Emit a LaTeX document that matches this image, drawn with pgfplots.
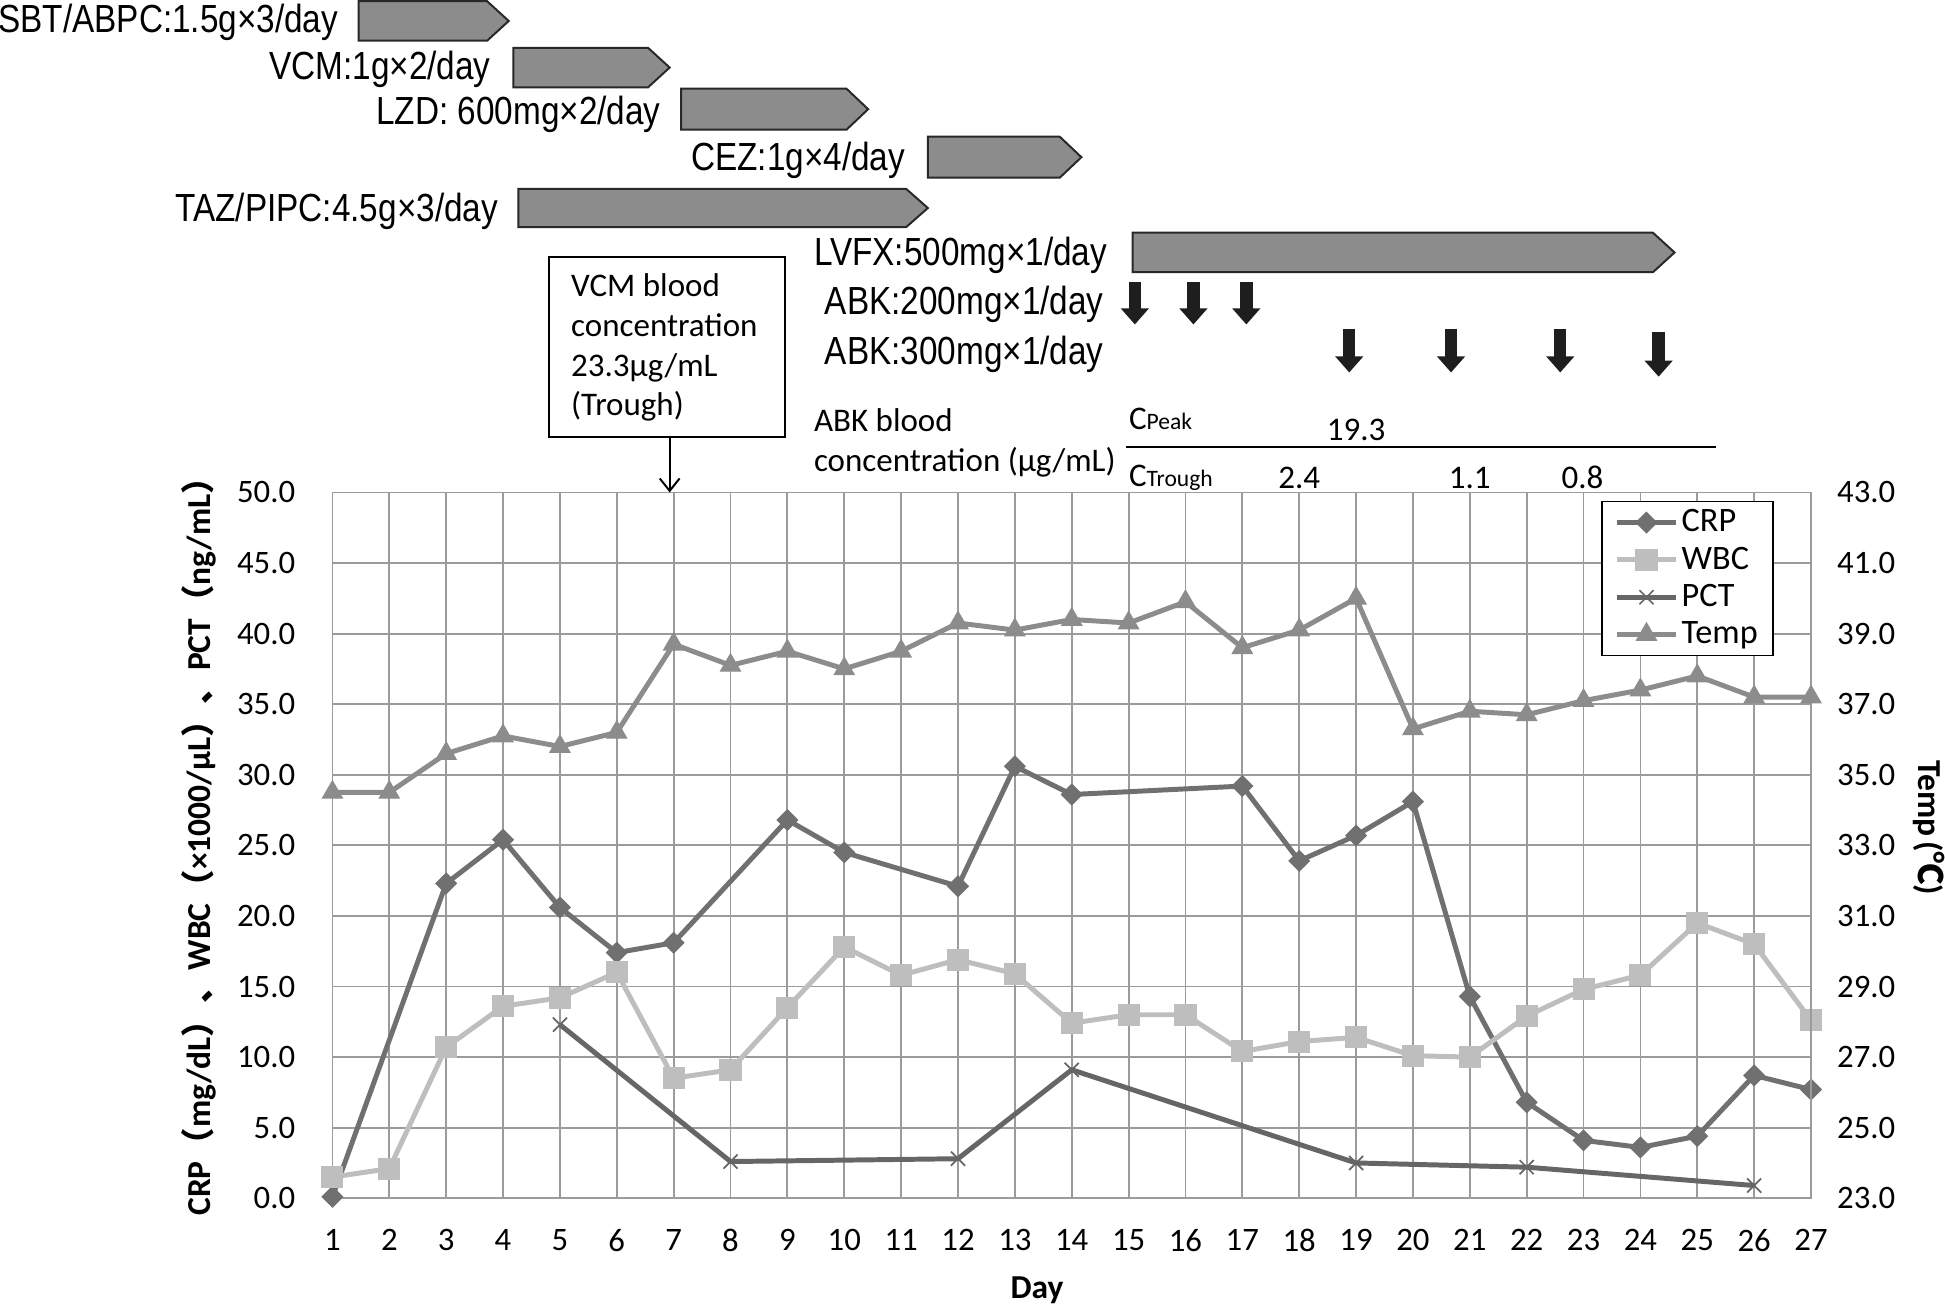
\documentclass[border=0pt]{standalone}
\usepackage{pgfplots}
\pgfplotsset{compat=1.18}
\usetikzlibrary{arrows.meta}
\usepackage{fontspec}
\setmainfont{Carlito}
\newfontfamily\narrow[FakeStretch=0.85]{Liberation Sans}
\newfontfamily\cjk{Noto Sans CJK JP}

\definecolor{crpc}{RGB}{112,112,112}
\definecolor{wbcc}{RGB}{190,190,190}
\definecolor{pctc}{RGB}{102,102,102}
\definecolor{tempc}{RGB}{140,140,140}
\definecolor{gridc}{RGB}{155,155,155}
\definecolor{barfill}{RGB}{140,140,140}
\definecolor{barline}{RGB}{40,40,40}
\definecolor{arrc}{RGB}{30,30,30}

\pgfplotsset{
  crpstyle/.style={color=crpc, line width=2pt, mark=square*, mark size=2.9pt,
    mark options={rotate=45, solid, fill=crpc, draw=crpc, line width=0.5pt}},
  wbcstyle/.style={color=wbcc, line width=2pt, mark=square*, mark size=4.2pt,
    mark options={solid, fill=wbcc, draw=wbcc, line width=0.5pt}},
  pctstyle/.style={color=pctc, line width=2pt, mark=x, mark size=4pt,
    mark options={solid, draw=pctc, line width=0.7pt}},
  tempstyle/.style={color=tempc, line width=2pt, mark=triangle*, mark size=4.6pt,
    mark options={solid, fill=tempc, draw=tempc, line width=0.5pt}},
  common/.style={
    scale only axis, width=596pt, height=284.5pt,
    xmin=1, xmax=27,
    major tick length=0pt,
    tick label style={font=\fontsize{13.2}{15}\selectfont},
    /pgf/number format/assume math mode=true,
    yticklabel style={/pgf/number format/fixed, /pgf/number format/fixed zerofill, /pgf/number format/precision=1},
    clip=false,
  },
}

\newcommand\abk[3]{\draw[line width=5pt, draw=arrc, -{Triangle[width=11pt,length=6.5pt]}] (axis cs:#1,#2) -- (axis cs:#1,#3);}

\begin{document}
\begin{tikzpicture}
\begin{axis}[common,
  ymin=0, ymax=50,
  xtick={1,...,27}, ytick={0,5,...,50},
  grid=major, grid style={draw=gridc, line width=0.75pt},
  axis line style={draw=gridc, line width=0.75pt},
  xticklabel style={yshift=-9pt},
  yticklabel style={xshift=-11.5pt},
  xlabel={\bfseries Day},
  xlabel style={at={(axis description cs:0.4765,-0.13)}, anchor=center, font=\fontsize{13.5}{15}\selectfont},
  ylabel={\bfseries CRP{\cjk（}mg/dL{\cjk）、}WBC{\cjk（}×1000/μL{\cjk）、}PCT{\cjk（}ng/mL{\cjk）}},
  ylabel style={at={(axis description cs:-0.0906,0.51)}, anchor=center, font=\fontsize{13.5}{15}\selectfont},
]
\addplot[crpstyle] coordinates {
  (1,0.1) (3,22.3) (4,25.4) (5,20.6) (6,17.4) (7,18.1) (9,26.8) (10,24.5)
  (12,22.1) (13,30.6) (14,28.6) (17,29.2) (18,23.9) (19,25.7) (20,28.1)
  (21,14.3) (22,6.8) (23,4.1) (24,3.6) (25,4.4) (26,8.7) (27,7.7)
};
\addplot[wbcstyle] coordinates {
  (1,1.5) (2,2.1) (3,10.7) (4,13.6) (5,14.2) (6,16.0) (7,8.5) (8,9.1)
  (9,13.5) (10,17.8) (11,15.8) (12,16.9) (13,15.9) (14,12.4) (15,13.0)
  (16,13.0) (17,10.4) (18,11.1) (19,11.4) (20,10.1) (21,10.0) (22,12.9)
  (23,14.8) (24,15.8) (25,19.5) (26,18.0) (27,12.6)
};
\addplot[pctstyle] coordinates {
  (5,12.3) (8,2.6) (12,2.8) (14,9.1) (19,2.5) (22,2.2) (26,0.9)
};

% drug administration bars
\begin{scope}[fill=barfill, draw=barline, line width=0.8pt]
\filldraw (axis cs:1.46,84.8) -- (axis cs:3.72,84.8) -- (axis cs:4.10,83.4) -- (axis cs:3.72,82.0) -- (axis cs:1.46,82.0) -- cycle;
\filldraw (axis cs:4.18,81.5) -- (axis cs:6.55,81.5) -- (axis cs:6.93,80.1) -- (axis cs:6.55,78.7) -- (axis cs:4.18,78.7) -- cycle;
\filldraw (axis cs:7.13,78.6) -- (axis cs:10.04,78.6) -- (axis cs:10.42,77.15) -- (axis cs:10.04,75.7) -- (axis cs:7.13,75.7) -- cycle;
\filldraw (axis cs:11.47,75.2) -- (axis cs:13.79,75.2) -- (axis cs:14.17,73.75) -- (axis cs:13.79,72.3) -- (axis cs:11.47,72.3) -- cycle;
\filldraw (axis cs:4.27,71.5) -- (axis cs:11.09,71.5) -- (axis cs:11.47,70.15) -- (axis cs:11.09,68.8) -- (axis cs:4.27,68.8) -- cycle;
\filldraw (axis cs:15.07,68.4) -- (axis cs:24.22,68.4) -- (axis cs:24.60,67.0) -- (axis cs:24.22,65.6) -- (axis cs:15.07,65.6) -- cycle;
\end{scope}
\begin{scope}[every node/.style={inner sep=0pt, anchor=east, font=\narrow\fontsize{15.8}{17}\selectfont}]
\node at (axis cs:1.11,83.3) {SBT/ABPC:1.5g×3/day};
\node at (axis cs:3.79,80.0) {VCM:1g×2/day};
\node at (axis cs:6.78,76.8) {LZD: 600mg×2/day};
\node at (axis cs:11.08,73.5) {CEZ:1g×4/day};
\node at (axis cs:3.92,69.9) {TAZ/PIPC:4.5g×3/day};
\node at (axis cs:14.63,66.8) {LVFX:500mg×1/day};
\node at (axis cs:14.57,63.3) {ABK:200mg×1/day};
\node at (axis cs:14.57,59.8) {ABK:300mg×1/day};
\end{scope}
\abk{15.11}{64.9}{61.9}
\abk{16.14}{64.9}{61.9}
\abk{17.07}{64.9}{61.9}
\abk{18.88}{61.6}{58.5}
\abk{20.67}{61.6}{58.5}
\abk{22.59}{61.6}{58.5}
\abk{24.32}{61.4}{58.2}

% VCM trough box
\draw[line width=0.8pt, fill=white] (axis cs:4.80,66.7) rectangle (axis cs:8.96,53.9);
\node[anchor=west, align=left, inner sep=0pt, font=\fontsize{13.3}{16}\selectfont] at (axis cs:5.19,60.25)
  {VCM blood\\concentration\\23.3μg/mL\\(Trough)};
\draw[line width=0.8pt, -{Straight Barb[length=5pt,width=8pt]}] (axis cs:6.93,53.9) -- (axis cs:6.93,50.0);

% ABK concentrations
\node[anchor=west, align=left, inner sep=0pt, font=\fontsize{13.3}{16}\selectfont] at (axis cs:9.46,53.5)
  {ABK blood\\concentration (μg/mL)};
\draw[line width=0.8pt] (axis cs:14.96,53.25) -- (axis cs:25.32,53.25);
\begin{scope}[every node/.style={inner sep=0pt, font=\fontsize{13.3}{15}\selectfont}]
\node[anchor=west] at (axis cs:15.0,55.2) {C{\fontsize{9.5}{10}\selectfont Peak}};
\node[anchor=west] at (axis cs:15.0,51.05) {C{\fontsize{9.5}{10}\selectfont Trough}};
\node at (axis cs:19.0,54.4) {19.3};
\node at (axis cs:18.0,51.05) {2.4};
\node at (axis cs:21.0,51.05) {1.1};
\node at (axis cs:22.98,51.05) {0.8};
\end{scope}
\end{axis}

\begin{axis}[common,
  ymin=23, ymax=43, ytick={23,25,...,43},
  axis x line=none, axis y line*=right,
  axis line style={draw=gridc, line width=0.75pt},
  yticklabel style={xshift=7pt},
  ylabel={\bfseries Temp\,(\kern-0.5pt{\cjk ℃})},
  ylabel style={at={(axis description cs:1.0797,0.525)}, anchor=center, rotate=180, font=\fontsize{13.5}{15}\selectfont},
  legend style={at={(0.858,0.988)}, anchor=north west, draw=black, line width=0.6pt, fill=white,
    font=\fontsize{13.8}{15}\selectfont, row sep=2.2pt, inner xsep=5pt, inner ysep=2pt,
    nodes={inner sep=1.2pt}},
  legend cell align=left,
  legend image code/.code={\draw[mark repeat=2, mark phase=2] plot coordinates {(0pt,0pt) (12pt,0pt) (24pt,0pt)};},
]
\addlegendimage{crpstyle}
\addlegendentry{CRP}
\addlegendimage{wbcstyle}
\addlegendentry{WBC}
\addlegendimage{pctstyle}
\addlegendentry{PCT}
\addplot[tempstyle] coordinates {
  (1,34.5) (2,34.5) (3,35.6) (4,36.1) (5,35.8) (6,36.2) (7,38.7) (8,38.1)
  (9,38.5) (10,38.0) (11,38.5) (12,39.3) (13,39.1) (14,39.4) (15,39.3)
  (16,39.9) (17,38.6) (18,39.1) (19,40.0) (20,36.3) (21,36.8) (22,36.7)
  (23,37.1) (24,37.4) (25,37.8) (26,37.2) (27,37.2)
};
\addlegendentry{Temp}
\end{axis}
\pgfresetboundingbox
\path (-134pt,-43pt) rectangle (650pt,483pt);
\end{tikzpicture}
\end{document}
